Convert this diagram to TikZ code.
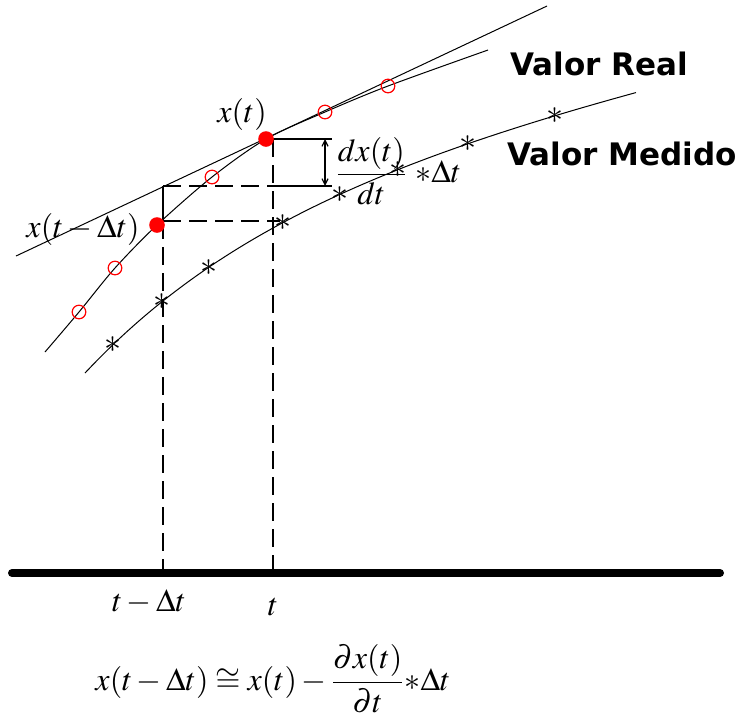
\documentclass[tikz,border=0pt]{standalone}
\usepackage{mathptmx}
\usepackage{fontspec}
\newfontfamily\legendfont{DejaVu Sans}
\usepackage{xcolor}
\usepackage{tikz}
\usetikzlibrary{arrows.meta}
\definecolor{realRed}{HTML}{FF0000}
\definecolor{lineCol}{HTML}{000000}

\begin{document}
\begin{tikzpicture}[
  x=0.5pt, y=-0.5pt,
  declare function={meas(\u)=373-0.22*(\u-85)-170*(1-exp(-0.005*(\u-85)));},
  curve/.style={draw=lineCol, line width=0.5pt},
  guide/.style={draw=lineCol, line width=0.6pt, dash pattern=on 9pt off 4pt},
  dimline/.style={draw=lineCol, line width=0.6pt},
  ringmark/.style={circle, draw=realRed, line width=0.6pt, minimum size=6.8pt, inner sep=0pt},
  dotmark/.style={circle, fill=realRed, minimum size=7.8pt, inner sep=0pt},
  starmark/.style={font=\fontsize{17}{17}\selectfont, inner sep=0pt},
  mlbl/.style={font=\fontsize{16}{19}\selectfont, inner sep=0pt},
  legend/.style={font=\legendfont\bfseries\fontsize{15.5}{18}\selectfont, inner sep=0pt},
]
\useasboundingbox (0,0) rectangle (742,719);

% ---- Eje de tiempo ----
\coordinate (axL) at (12,573);
\coordinate (axR) at (720,573);
\coordinate (tk1) at (163,573);
\coordinate (tk2) at (273,573);
\draw[line width=4pt, line cap=round] (axL) -- (axR);

% ---- Recta tangente ----
\coordinate (tanA) at (16,256);
\coordinate (tanB) at (547,6);
\draw[curve] (tanA) -- (tanB);

% ---- Curvas: valor real y valor medido ----
\draw[curve] plot[smooth] coordinates {(45,352) (79,312) (115,268) (157,225) (212,177)
  (266,139) (325,112) (388,86) (488,50)};
\draw[curve] plot[domain=85:636, samples=80] (\x, {meas(\x)});

% ---- Construccion del paso dx/dt ----
\coordinate (corner) at (163,186);
\coordinate (low)    at (163,221);
\coordinate (lowEnd) at (280,221);
\coordinate (midB)   at (273,186);
\coordinate (dimTR)  at (332,139);
\coordinate (dimBR)  at (332,186);
\coordinate (arrT)   at (325,139);
\coordinate (arrB)   at (325,186);
\coordinate (topV)   at (273,139);

\draw[guide] (corner) -- (midB);
\draw[dimline] (midB) -- (dimBR);
\draw[dimline] (corner) -- (low);
\draw[guide] (low) -- (lowEnd);
\draw[guide] (low) -- (tk1);
\draw[guide] (topV) -- (tk2);
\draw[dimline] (topV) -- (dimTR);
\draw[dimline, {Straight Barb[length=3pt,width=3pt]}-{Straight Barb[length=3pt,width=3pt]}] (arrT) -- (arrB);

% ---- Marcas ----
\foreach \px/\py [count=\i] in {79/312, 115/268, 212/177, 325/112, 388/86}
  \node[ringmark] (ring\i) at (\px,\py) {};
\foreach \px [count=\i] in {113, 162, 209, 283, 340, 398, 468, 555}
  \node[starmark] (star\i) at (\px, {meas(\px)}) {$\ast$};
\node[dotmark] (xprev) at (157,225) {};
\node[dotmark] (xnow)  at (266,139) {};

% ---- Etiquetas ----
\node[mlbl] (lblxt)  at (242,114) {$x(t)$};
\node[mlbl] (lblxdt) at (83,229)  {$x(t-\Delta t)$};
\node[mlbl, anchor=west] (lblfrac) at (335,171)
  {$\displaystyle\frac{dx(t)}{dt}\hspace{4pt}{\ast}\Delta t$};
\node[legend] (lblreal) at (599,64)  {Valor Real};
\node[legend] (lblmed)  at (622,154) {Valor Medido};
\node[mlbl] (lbltdt) at (149,602) {$t-\Delta t$};
\node[mlbl] (lblt)   at (273,607) {$t$};
\node[mlbl] (formula) at (273,679)
  {$x(t-\Delta t)\cong x(t)-\displaystyle\frac{\partial x(t)}{\partial t}{\ast}\Delta t$};

\end{tikzpicture}
\end{document}
